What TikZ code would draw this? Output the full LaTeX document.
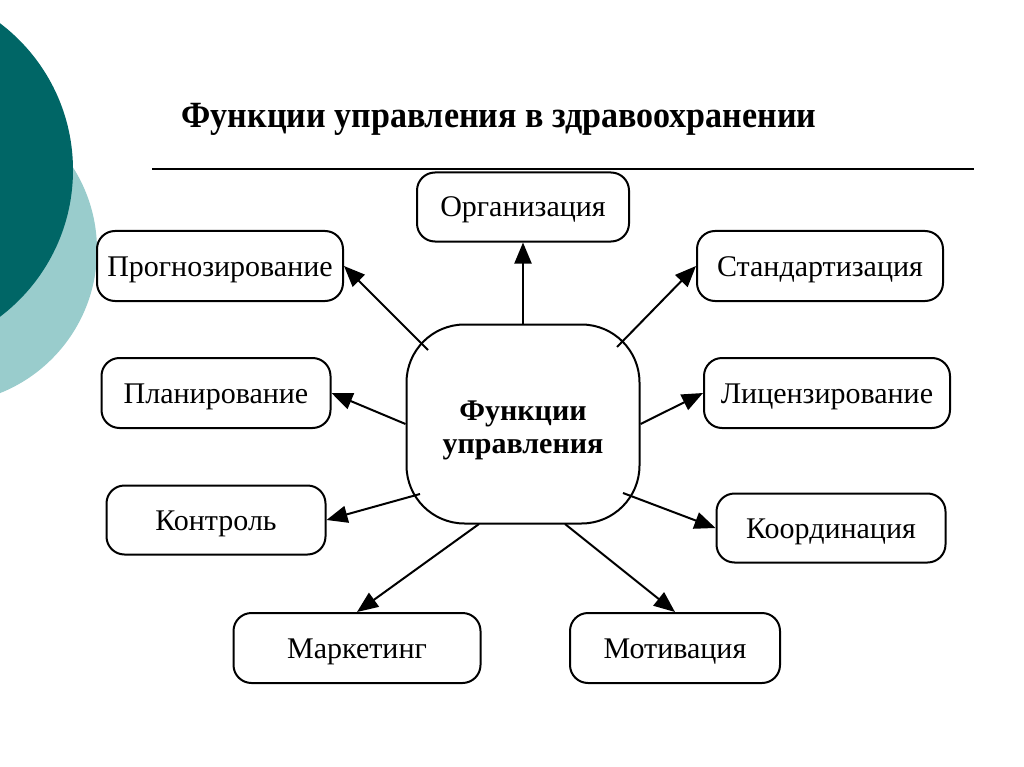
\documentclass[tikz,border=0pt]{standalone}
\usepackage{fontspec}
\setmainfont{Liberation Serif}
\usetikzlibrary{arrows.meta}
\definecolor{darkteal}{RGB}{0,102,102}
\definecolor{lightteal}{RGB}{153,204,204}
\tikzset{
  fbox/.style={draw, line width=2pt, rounded corners=18pt, fill=white, inner sep=0pt, text height=20pt, text depth=0pt, font=\fontsize{30}{33}\selectfont},
  cbox/.style={draw, line width=2pt, rounded corners=58pt, fill=white, inner sep=0pt, font=\fontsize{30}{33}\selectfont\bfseries},
  arr/.style={line width=2pt, -{Triangle[length=21pt,width=17pt]}},
}
\begin{document}
\begin{tikzpicture}[x=1pt,y=-1pt]
\useasboundingbox (0,0) rectangle (1024,767);
\fill[white] (0,0) rectangle (1024,767);
\begin{scope}
\clip (0,0) rectangle (1024,767);
\fill[lightteal] (-57,250) circle (154);
\fill[darkteal] (-111,170) circle (184);
\end{scope}
\node[anchor=center, font=\fontsize{37}{40}\selectfont\bfseries] (title) at (499,119) {\scalebox{0.92}[1]{Функции управления в здравоохранении}};
\draw[line width=1.4pt] (152,169) coordinate (l1) -- (974,169) coordinate (l2);

\node[fbox, minimum width=212pt, minimum height=69pt] (org) at (523,207) {Организация};
\node[fbox, minimum width=246pt, minimum height=70pt] (prog) at (220,266) {Прогнозирование};
\node[fbox, minimum width=246pt, minimum height=70pt] (stand) at (820,266) {Стандартизация};
\node[fbox, minimum width=229pt, minimum height=70pt] (plan) at (216,393) {Планирование};
\node[fbox, minimum width=246pt, minimum height=70pt] (lic) at (827,393) {Лицензирование};
\node[fbox, minimum width=219pt, minimum height=69pt] (kon) at (216,520) {Контроль};
\node[fbox, minimum width=229pt, minimum height=69pt] (koord) at (831,528) {Координация};
\node[fbox, minimum width=247pt, minimum height=70pt] (mark) at (357,648) {Маркетинг};
\node[fbox, minimum width=210pt, minimum height=70pt] (mot) at (675,648) {Мотивация};
\node[cbox, minimum width=233pt, minimum height=199pt] (c) at (523,424) {\raisebox{-3pt}[\dimexpr\height+3pt\relax][\dimexpr\depth-3pt\relax]{\begin{tabular}{@{}c@{}}Функции\\управления\end{tabular}}};

\coordinate (sprog) at (428,350);
\coordinate (sstand) at (617,347);
\coordinate (skon) at (420,494);
\coordinate (skoord) at (623,493);
\coordinate (smark) at (479,524);
\coordinate (smot) at (565,524);

\draw[arr] (c.north) -- (org.south);
\draw[arr] (sprog) -- (prog.east);
\draw[arr] (sstand) -- (stand.west);
\draw[arr] (c.west) -- (plan.east);
\draw[arr] (c.east) -- (lic.west);
\draw[arr] (skon) -- (kon.east);
\draw[arr] (skoord) -- (koord.west);
\draw[arr] (smark) -- (mark.north);
\draw[arr] (smot) -- (mot.north);
\end{tikzpicture}
\end{document}
